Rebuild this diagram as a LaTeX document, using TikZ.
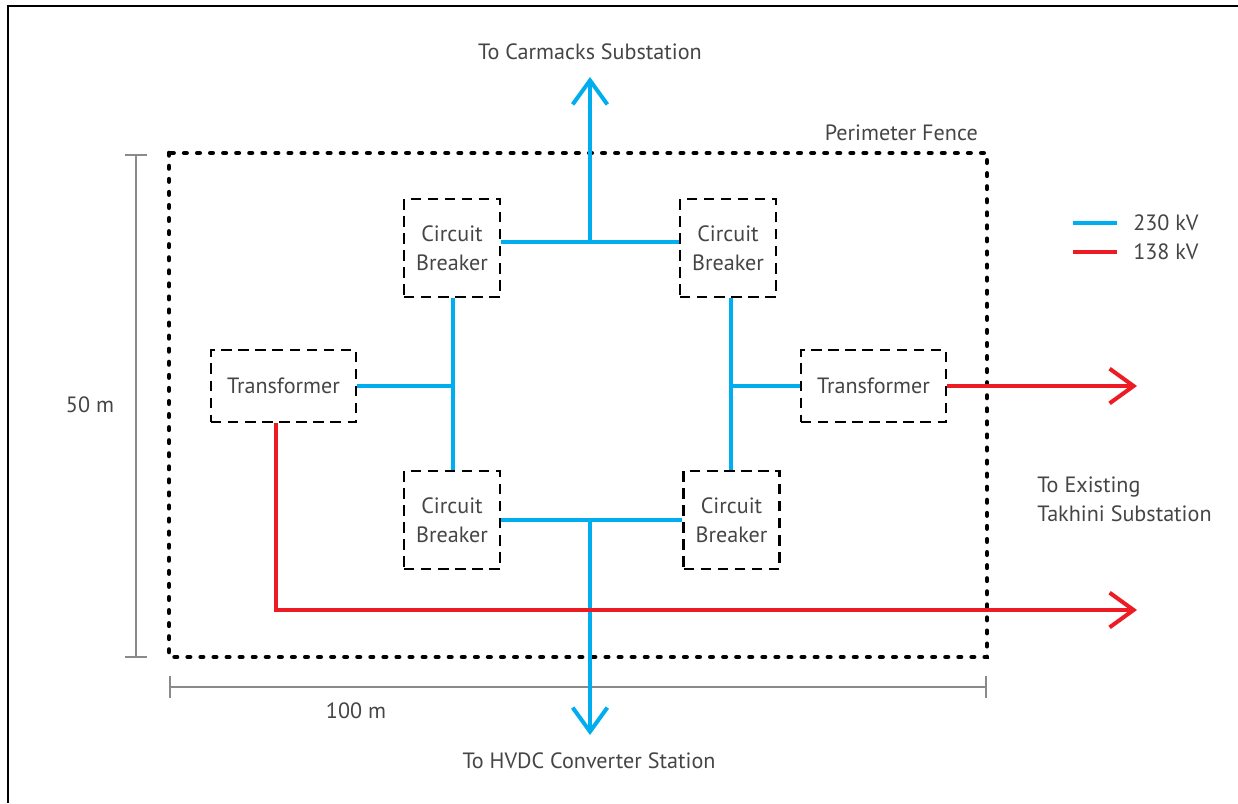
\documentclass[tikz,border=0pt]{standalone}
\usepackage{fontspec}
\setmainfont{PT Sans}
\usetikzlibrary{arrows.meta}
\definecolor{hv}{HTML}{00AEEF}
\definecolor{lv}{HTML}{ED1C24}
\definecolor{txt}{HTML}{454545}
\definecolor{dimgray}{HTML}{8A8A8A}
\begin{document}
\begin{tikzpicture}[x=0.75pt,y=-0.75pt,
  every node/.style={font=\fontsize{16.6}{21.8}\selectfont, text=txt, inner sep=0pt},
  unit/.style={draw=black, line width=1.9pt, dash pattern=on 7.8pt off 5pt,
    align=center},
  breaker/.style={unit, minimum width=72pt, minimum height=73.5pt},
  xformer/.style={unit, minimum width=108.75pt, minimum height=54pt},
  kv230/.style={draw=hv, line width=3pt},
  kv138/.style={draw=lv, line width=3pt},
  feed/.style={-{Straight Barb[length=18pt,width=26pt,line width=3pt]}},
  fence/.style={draw=black, line width=3.5pt, line cap=round, dash pattern=on 1.8pt off 8pt},
  dimline/.style={draw=dimgray, line width=1.8pt}]
\useasboundingbox (0,0) rectangle (1238,803);
% frame
\draw[line width=1.6pt] (8,803) -- (8,6) -- (1238,6);

% perimeter fence
\draw[fence] (169,153) rectangle (987,657);
\node[anchor=east] (fencelbl) at (978,133) {Perimeter Fence};

% dimensions
\draw[dimline] (136,155) -- (136,657);
\draw[dimline] (125,155) -- (147,155);
\draw[dimline] (125,657) -- (147,657);
\node (h50) at (90,405) {50 m};
\draw[dimline] (170,687) -- (986,687);
\draw[dimline] (170,676) -- (170,698);
\draw[dimline] (986,676) -- (986,698);
\node (w100) at (356,711) {100 m};

% equipment
\node[breaker] (cbTL) at (452,248) {Circuit\\Breaker};
\node[breaker] (cbTR) at (728,248) {Circuit\\Breaker};
\node[breaker] (cbBL) at (452,520) {Circuit\\Breaker};
\node[breaker] (cbBR) at (731.5,520) {Circuit\\Breaker};
\node[xformer] (tfL) at (283.5,386) {Transformer};
\node[xformer] (tfR) at (873.5,386) {Transformer};

% junctions and ends
\coordinate (jTop) at (590,242);
\coordinate (jBot) at (590,520);
\coordinate (jL) at (453,386);
\coordinate (jR) at (731,386);
\coordinate (carmacks) at (590,77);
\coordinate (hvdc) at (590,735);
\coordinate (exA) at (1137,386);
\coordinate (exB) at (1137,610);
\coordinate (bend) at (276,610);

% 230 kV
\draw[kv230] (cbTL.east |- jTop) -- (cbTR.west |- jTop);
\draw[kv230] (cbBL.east |- jBot) -- (cbBR.west |- jBot);
\draw[kv230] (cbTL.south -| jL) -- (cbBL.north -| jL);
\draw[kv230] (cbTR.south -| jR) -- (cbBR.north -| jR);
\draw[kv230] (tfL.east) -- (jL);
\draw[kv230] (jR) -- (tfR.west);
\draw[kv230,feed] (jTop) -- (carmacks);
\draw[kv230,feed] (jBot) -- (hvdc);

% 138 kV
\draw[kv138,feed] (tfR.east) -- (exA);
\draw[kv138,feed] (tfL.south -| bend) -- (bend) -- (exB);

% labels
\node (lblC) at (590,52) {To Carmacks Substation};
\node (lblH) at (589,761) {To HVDC Converter Station};
\node[anchor=west, align=left] (lblT) at (1037,499) {To Existing\\Takhini Substation};

% legend
\coordinate (lgA1) at (1073,223);
\coordinate (lgA2) at (1117,223);
\coordinate (lgB1) at (1073,252);
\coordinate (lgB2) at (1117,252);
\draw[kv230] (lgA1) -- (lgA2);
\draw[kv138] (lgB1) -- (lgB2);
\node[anchor=west] (lg230) at (1133,223) {230 kV};
\node[anchor=west] (lg138) at (1133,252) {138 kV};
\end{tikzpicture}
\end{document}
